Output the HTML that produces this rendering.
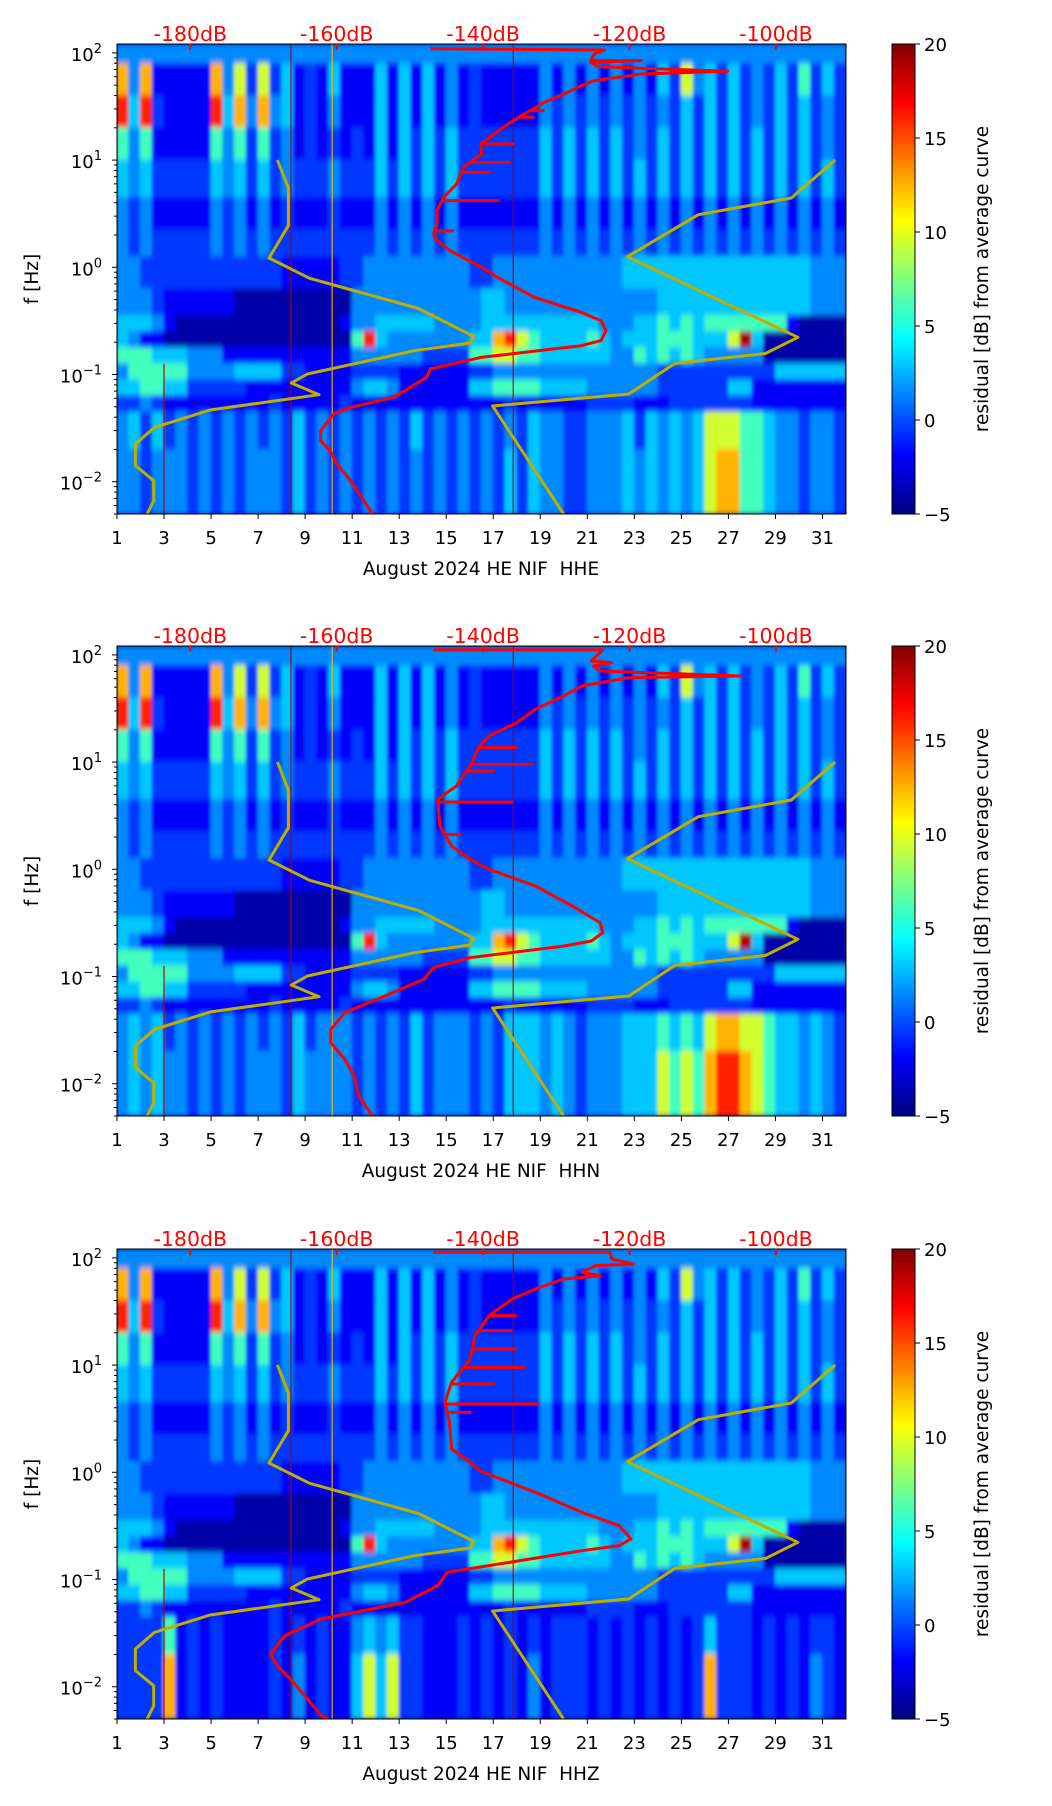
<!DOCTYPE html>
<html><head><meta charset="utf-8"><title>August 2024 HE NIF spectrograms</title>
<style>
html,body{margin:0;padding:0;background:#fff;}
svg{display:block;font-family:"DejaVu Sans","Liberation Sans",sans-serif;}
</style></head>
<body>
<svg id="fig" width="1052" height="1806" viewBox="0 0 1052 1806" xmlns="http://www.w3.org/2000/svg">
<defs>
<filter id="blur" x="-5%" y="-5%" width="110%" height="110%"><feGaussianBlur stdDeviation="1.6 3"/></filter>
<linearGradient id="jetgrad" x1="0" y1="1" x2="0" y2="0">
<stop offset="0" stop-color="#000080"/><stop offset="0.11" stop-color="#0000f0"/>
<stop offset="0.125" stop-color="#0000ff"/><stop offset="0.375" stop-color="#00ffff"/>
<stop offset="0.625" stop-color="#ffff00"/><stop offset="0.875" stop-color="#ff0000"/>
<stop offset="1" stop-color="#800000"/></linearGradient>
</defs>
</svg>
<script>
// ---------- data ----------
const panelNames = ["HHE","HHN","HHZ"];
const dayTicks = [1,3,5,7,9,11,13,15,17,19,21,23,25,27,29,31];
const dbTicks = [-180,-160,-140,-120,-100];
const cbTicks = [-5,0,5,10,15,20];
const yDecades = [-2,-1,0,1,2];
// residual (dB) for each level digit 0..9
const levelDB = [-4,-2,-0.5,1.5,3,6,9.5,12.5,16,19];
// row edges (log10 Hz), 17 rows
const rowEdges = [2.083,1.9,1.6,1.3,1.0,0.65,0.35,0.1,-0.2,-0.45,-0.6,-0.75,-0.9,-1.05,-1.2,-1.35,-1.7,-2.301];
// residual levels, 62 half-day columns
const gridHHE = [
"33333333333333333333333333333333333333333333333333333333333333",
"7371111173"+"6262412141"+"1141414131"+"2111113131"+"3131314263"+"4242324252"+"42",
"8482111184"+"7373412131"+"1141414131"+"2111113232"+"3232323242"+"4242324242"+"32",
"5351111153"+"5252312121"+"2141424242"+"2222224242"+"4242324242"+"4242424242"+"32",
"4342222243"+"4242322232"+"2242424242"+"2222224242"+"4242424242"+"4242424242"+"42",
"3231111132"+"3131211121"+"1131313131"+"1111113131"+"3131313131"+"3131313131"+"31",
"3232222232"+"3232222222"+"2232323232"+"2222223232"+"3232323232"+"3232323232"+"32",
"3322222222"+"2222111112"+"2333333333"+"2233333333"+"3334444444"+"4444444443"+"33",
"3332111111"+"0000000000"+"3333333333"+"3443333333"+"3333334444"+"4444444443"+"33",
"4443100000"+"0000000001"+"3344444333"+"3444444444"+"4333445454"+"5555555100"+"00",
"4311000000"+"0000000000"+"5843333333"+"4478654444"+"5434445554"+"4469400000"+"00",
"5554443331"+"1111111111"+"3333332222"+"5566554444"+"4433545454"+"3333300000"+"00",
"3555553333"+"4444221111"+"2222111111"+"2233333333"+"3333332222"+"2222224444"+"44",
"4455442222"+"2111111111"+"3443111111"+"4455554444"+"3333332222"+"2244111111"+"11",
"2232111111"+"1112111112"+"1111111111"+"1112111111"+"2222111222"+"2222111111"+"11",
"3424232323"+"2323242323"+"2323242323"+"2323243322"+"3334243434"+"6665543323"+"32",
"3323332323"+"2333242323"+"2323232323"+"2324243322"+"3334343434"+"6775543323"+"32"];
const gridHHN = gridHHE.slice(0,15).concat([
"3434232323"+"2323242333"+"2323242333"+"2324443432"+"3334445454"+"6776654434"+"32",
"3434332323"+"2333243333"+"2323242333"+"2324443432"+"3334446565"+"7887654434"+"32"]);
const gridHHZ = gridHHE.slice(0,15).concat([
"2222512121"+"1112121211"+"3434221112"+"1212121222"+"1212121212"+"4222121212"+"21",
"2222712121"+"1112131211"+"4646221112"+"1212131222"+"1212121212"+"7222121213"+"21"]);
const grids = [gridHHE, gridHHN, gridHHZ];
// narrow vertical lines (day, top log10 f, level)
const lineDays = [3.0, 8.4, 10.15, 17.85];
const lineTops = [-0.9, 2.08, 2.08, 2.08];
const lineLevels = [9, 9, 7, 9];
// Peterson noise models [dB, log10 f]
const nlnmDB = [-168.1,-166.6,-166.6,-169.25,-163.7,-148.85,-141.3,-141.75,-149.4,-164.0,-166.2,-162.4,-177.3,-184.9,-187.5,-187.5,-185.0,-185.0,-185.9];
const nlnmLF = [1.001,0.740,0.388,0.087,-0.103,-0.383,-0.644,-0.706,-0.778,-0.995,-1.079,-1.188,-1.331,-1.493,-1.648,-1.850,-1.990,-2.177,-2.301];
const nhnmDB = [-91.9,-97.9,-110.6,-120.3,-97.0,-101.4,-113.8,-120.1,-138.7,-129.0];
const nhnmLF = [1.001,0.646,0.491,0.099,-0.653,-0.803,-0.896,-1.182,-1.294,-2.301];
// average curves per channel
const avgHHE_DB = [-147.2,-123.4,-124.8,-125.3,-118.4,-125.3,-124.3,-106.6,-118.4,-124.8,-126.6,-128.9,-131.6,-134.4,-136.6,-138.5,-140.3,-140.2,-142.65,-143.6,-145.4,-146.3,-146.3,-146.75,-146.3,-144.5,-140.2,-138.0,-133.0,-126.6,-123.9,-123.2,-123.9,-126.6,-140.3,-147.2,-147.7,-152.2,-158.1,-160.4,-162.2,-162.2,-160.9,-160.0,-158.1,-155.4,-155.0];
const avgHHE_LF = [2.04,2.027,1.990,1.928,1.928,1.912,1.872,1.828,1.803,1.741,1.694,1.617,1.539,1.430,1.337,1.243,1.150,1.057,0.933,0.777,0.653,0.528,0.404,0.311,0.248,0.155,0.0,-0.094,-0.280,-0.420,-0.498,-0.591,-0.684,-0.731,-0.840,-0.949,-1.026,-1.213,-1.306,-1.368,-1.524,-1.617,-1.710,-1.835,-1.990,-2.270,-2.301];
const avgHHN_DB = [-146.8,-123.65,-125.2,-122.4,-124.9,-124.0,-104.9,-120.1,-126.5,-129.0,-132.85,-135.4,-139.2,-140.5,-141.75,-143.65,-146.2,-145.9,-144.3,-141.75,-139.2,-132.85,-127.8,-124.0,-123.65,-125.2,-129.0,-141.75,-146.8,-148.1,-154.45,-158.9,-160.8,-160.8,-158.9,-157.6,-157.0,-155.1];
const avgHHN_LF = [2.046,2.046,1.943,1.928,1.896,1.850,1.803,1.788,1.710,1.617,1.492,1.368,1.243,1.150,0.964,0.777,0.653,0.404,0.217,0.093,0.0,-0.156,-0.342,-0.498,-0.591,-0.669,-0.716,-0.824,-0.918,-1.026,-1.213,-1.337,-1.493,-1.617,-1.773,-1.928,-2.115,-2.301];
const avgHHZ_DB = [-146.8,-122.7,-122.4,-119.5,-124.6,-126.5,-124.0,-129.0,-132.85,-136.0,-139.2,-141.1,-141.75,-144.3,-145.2,-144.6,-144.3,-141.75,-140.5,-132.85,-126.5,-121.4,-119.8,-121.4,-126.5,-144.9,-146.2,-150.6,-162.1,-167.1,-169.05,-168.1,-165.9,-162.1,-161.1];
const avgHHZ_LF = [2.052,2.052,1.990,1.943,1.928,1.865,1.834,1.803,1.710,1.617,1.461,1.275,1.057,0.839,0.653,0.466,0.217,0.093,0.015,-0.187,-0.373,-0.498,-0.622,-0.684,-0.731,-0.933,-1.057,-1.213,-1.368,-1.524,-1.695,-1.804,-1.959,-2.270,-2.301];
const avgDB = [avgHHE_DB, avgHHN_DB, avgHHZ_DB];
const avgLF = [avgHHE_LF, avgHHN_LF, avgHHZ_LF];
// horizontal spikes on average curves [log10 f -> dB end]
const spikeHHE_LF = [1.461,1.40,1.150,0.979,0.886,0.622,0.34];
const spikeHHE_DB = [-131.6,-133.0,-135.7,-136.2,-138.9,-137.8,-144.0];
const spikeHHN_LF = [1.135,0.979,0.917,0.628,0.326];
const spikeHHN_DB = [-135.4,-133.2,-138.4,-135.9,-143.0];
const spikeHHZ_LF = [1.461,1.321,1.150,0.979,0.824,0.637,0.559];
const spikeHHZ_DB = [-135.4,-136.0,-135.4,-134.3,-138.4,-132.4,-141.6];
const spikeLF = [spikeHHE_LF, spikeHHN_LF, spikeHHZ_LF];
const spikeDB = [spikeHHE_DB, spikeHHN_DB, spikeHHZ_DB];

// ---------- layout / scales ----------
const NS = "http://www.w3.org/2000/svg";
const AX_L = 117, AX_W = 729, AX_H = 470;
const panelTops = [44, 646, 1249];
const LOG_TOP = Math.log10(121), LOG_BOT = Math.log10(0.005);
const DAY0 = 1, DAY1 = 32;
const DB_PX = 7.32, DB_REF_X = 190.3;
function xDay(d){ return AX_L + (d - DAY0) / (DAY1 - DAY0) * AX_W; }
function xDB(db){ return DB_REF_X + (db + 180) * DB_PX; }
function yLF(lf, top){ return top + (LOG_TOP - lf) / (LOG_TOP - LOG_BOT) * AX_H; }
function jet(t){
  const c = v => Math.round(255 * Math.max(0, Math.min(1, v)));
  return "rgb(" + c(1.5 - Math.abs(4*t - 3)) + "," + c(1.5 - Math.abs(4*t - 2)) + "," + c(1.5 - Math.abs(4*t - 1)) + ")";
}
function colorDB(v){ return jet((v + 5) / 25); }
function mk(tag, attrs, parent){
  const e = document.createElementNS(NS, tag);
  for (const k in attrs) e.setAttribute(k, attrs[k]);
  parent.appendChild(e);
  return e;
}
const svg = document.getElementById("fig");
const defs = svg.querySelector("defs");

panelNames.forEach((name, p) => {
  const top = panelTops[p];
  const g = mk("g", {}, svg);
  
  
  const cp = mk("clipPath", {id: "clip" + p}, defs);
  mk("rect", {x: AX_L, y: top, width: AX_W, height: AX_H}, cp);

  // heatmap
  const hm = mk("g", {"clip-path": "url(#clip" + p + ")"}, g);
  
  
  mk("rect", {x: AX_L, y: top, width: AX_W, height: AX_H, fill: "#000090"}, hm);
  const cells = mk("g", {filter: "url(#blur)"}, hm);
  const grid = grids[p];
  grid.forEach((row, r) => {
    const y0 = yLF(rowEdges[r], top), y1 = yLF(rowEdges[r+1], top);
    for (let c = 0; c < row.length; c++) {
      const v = levelDB[+row[c]];
      const x0 = xDay(DAY0 + c * 0.5), x1 = xDay(DAY0 + (c + 1) * 0.5);
      const cell = mk("rect", {x: x0 - 0.5, y: y0 - 0.5, width: x1 - x0 + 1, height: y1 - y0 + 1, fill: colorDB(v)}, cells);
      
      
    }
  });
  lineDays.forEach((d, i) => {
    const ln = mk("line", {x1: xDay(d), x2: xDay(d), y1: yLF(lineTops[i], top), y2: top + AX_H, stroke: colorDB(levelDB[lineLevels[i]]), "stroke-width": 1.3, opacity: 0.85}, hm);
    
    
  });

  // noise models
  const poly = (dbs, lfs) => dbs.map((v, i) => xDB(v).toFixed(1) + "," + yLF(lfs[i], top).toFixed(1)).join(" ");
  const curves = mk("g", {"clip-path": "url(#clip" + p + ")"}, g);
  const lo = mk("polyline", {points: poly(nlnmDB, nlnmLF), fill: "none", stroke: "#bfae00", "stroke-width": 3, "stroke-linejoin": "round"}, curves);
  
  
  const hi = mk("polyline", {points: poly(nhnmDB, nhnmLF), fill: "none", stroke: "#bfae00", "stroke-width": 3, "stroke-linejoin": "round"}, curves);
  
  
  const av = mk("polyline", {points: poly(avgDB[p], avgLF[p]), fill: "none", stroke: "#ff0000", "stroke-width": 3, "stroke-linejoin": "round"}, curves);
  
  
  const lfs = avgLF[p], dbs = avgDB[p];
  spikeLF[p].forEach((lf, i) => {
    let x0 = xDB(dbs[0]);
    for (let k = 0; k < lfs.length - 1; k++) {
      if ((lfs[k] - lf) * (lfs[k+1] - lf) <= 0 && lfs[k] !== lfs[k+1]) {
        const t = (lf - lfs[k]) / (lfs[k+1] - lfs[k]);
        x0 = xDB(dbs[k] + t * (dbs[k+1] - dbs[k])); break;
      }
    }
    const sp = mk("line", {x1: x0, x2: xDB(spikeDB[p][i]), y1: yLF(lf, top), y2: yLF(lf, top), stroke: "#ff0000", "stroke-width": 3}, curves);
    
    
  });

  // frame
  const fr = mk("rect", {x: AX_L, y: top, width: AX_W, height: AX_H, fill: "none", stroke: "#000", "stroke-width": 1}, g);
  
  

  // x ticks
  dayTicks.forEach(d => {
    const x = xDay(d);
    mk("line", {x1: x, x2: x, y1: top + AX_H, y2: top + AX_H + 5, stroke: "#000", "stroke-width": 1}, g);
    const t = mk("text", {x: x, y: top + AX_H + 30, "text-anchor": "middle", "font-size": 18, fill: "#000"}, g);
    t.textContent = d;
    
    
  });
  const xl = mk("text", {x: 481, y: top + AX_H + 61, "text-anchor": "middle", "font-size": 18.5, fill: "#000"}, g);
  xl.textContent = "August 2024 HE NIF\u00a0\u00a0" + name;
  
  

  // top dB axis
  dbTicks.forEach(db => {
    const x = xDB(db);
    mk("line", {x1: x, x2: x, y1: top, y2: top + 6, stroke: "#ff0000", "stroke-width": 2}, g);
    const t = mk("text", {x: x, y: top - 3, "text-anchor": "middle", "font-size": 20.5, fill: "#ff0000"}, g);
    t.textContent = db + "dB";
    
    
  });

  // y ticks (log)
  for (let k = -3; k <= 2; k++) {
    for (let m = 1; m <= 9; m++) {
      const lf = k + Math.log10(m);
      if (lf > LOG_TOP || lf < LOG_BOT) continue;
      const y = yLF(lf, top);
      mk("line", {x1: AX_L - (m === 1 ? 5 : 3), x2: AX_L, y1: y, y2: y, stroke: "#000", "stroke-width": 1}, g);
    }
  }
  yDecades.forEach(k => {
    const y = yLF(k, top);
    const t = mk("text", {x: 102, y: y + 8, "text-anchor": "end", "font-size": 18, fill: "#000"}, g);
    
    
    t.appendChild(document.createTextNode("10"));
    const s = mk("tspan", {dy: -8, "font-size": 13}, t);
    s.textContent = (k < 0 ? "\u2212" : "") + Math.abs(k);
  });
  const yl = mk("text", {x: 0, y: 0, transform: "translate(38," + (top + AX_H / 2) + ") rotate(-90)", "text-anchor": "middle", "font-size": 18.5, fill: "#000"}, g);
  yl.textContent = "f [Hz]";
  
  

  // colorbar
  const cb = mk("rect", {x: 892, y: top, width: 23, height: AX_H, fill: "url(#jetgrad)", stroke: "#000", "stroke-width": 1}, g);
  
  
  cbTicks.forEach(v => {
    const y = top + AX_H - (v + 5) / 25 * AX_H;
    mk("line", {x1: 915, x2: 920, y1: y, y2: y, stroke: "#000", "stroke-width": 1}, g);
    const t = mk("text", {x: 924, y: y + 7, "font-size": 18, fill: "#000"}, g);
    t.textContent = (v < 0 ? "\u2212" : "") + Math.abs(v);
    
    
  });
  const cl = mk("text", {x: 0, y: 0, transform: "translate(988," + (top + AX_H / 2) + ") rotate(-90)", "text-anchor": "middle", "font-size": 18.5, fill: "#000"}, g);
  cl.textContent = "residual [dB] from average curve";
  
  
});
</script>
</body></html>
